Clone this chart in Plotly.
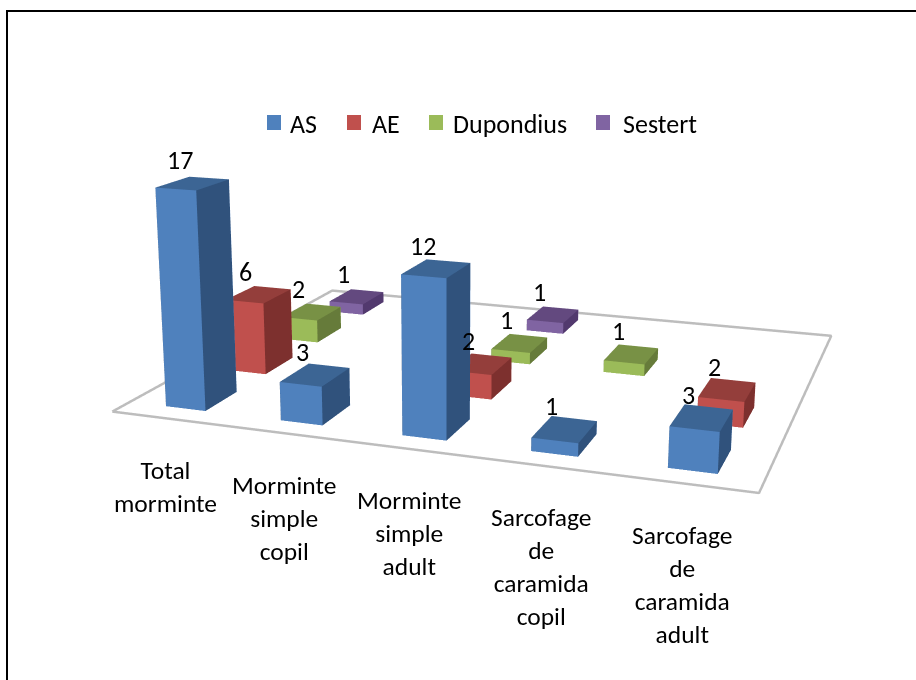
import plotly.graph_objects as go

# chart values, None where the column has no bar
categories = ["Total<br>morminte", "Morminte<br>simple<br>copil", "Morminte<br>simple<br>adult",
              "Sarcofage<br>de<br>caramida<br>copil", "Sarcofage<br>de<br>caramida<br>adult"]
series_names = ["AS", "AE", "Dupondius", "Sestert"]
as_values = [17, 3, 12, 1, 3]
ae_values = [6, None, 2, None, 2]
dupondius_values = [2, None, 1, 1, None]
sestert_values = [1, None, 1, None, None]
series_values = [as_values, ae_values, dupondius_values, sestert_values]

# front, top, side shades of every series
shades = [("#4f81bd", "#3c6594", "#30527c"),
          ("#c0504d", "#943e3b", "#7d302e"),
          ("#9bbb59", "#789145", "#667b3a"),
          ("#8064a2", "#63497f", "#52396e")]

FONT = "Carlito, Lato, sans-serif"
W = 0.175  # half width of a bar
D = 0.25   # half depth of a bar

# plotly fixes the lens at 45 degrees, the original has a much longer one.
# These skews of the floor and the bars make up for that, heights stay untouched.
LEAN_X, LEAN_Y = -0.0581, 0.0237
SKEW_X, SKEW_Y = -0.7392, 1.4821


def pos(x, y, z):
    return x + LEAN_X * z + SKEW_X * y, y + LEAN_Y * z + SKEW_Y * x, z


def bar(cx, cy, h, colors):
    corners = [(cx - W, cy - D), (cx + W, cy - D), (cx + W, cy + D), (cx - W, cy + D)]
    pts = [pos(a, b, 0) for a, b in corners] + [pos(a, b, h) for a, b in corners]
    xs, ys, zs = zip(*pts)
    # triangles: front, front, right, right, top, top, left, left, back, back
    i = [0, 0, 1, 1, 4, 4, 3, 3, 2, 2]
    j = [1, 5, 2, 6, 5, 6, 0, 4, 3, 7]
    k = [5, 4, 6, 5, 6, 7, 4, 7, 7, 6]
    front, top, side = colors
    face = [front, front, side, side, top, top, side, side, front, front]
    return go.Mesh3d(x=xs, y=ys, z=zs, i=i, j=j, k=k, facecolor=face, flatshading=True,
                     lighting=dict(ambient=1, diffuse=0, specular=0, fresnel=0),
                     hoverinfo="skip", showlegend=False, showscale=False)


fig = go.Figure()

# floor of the chart
floor = [pos(a, b, 0) for a, b in [(-.5, -.5), (4.5, -.5), (4.5, 3.5), (-.5, 3.5), (-.5, -.5)]]
fx, fy, fz = zip(*floor)
fig.add_trace(go.Scatter3d(x=fx, y=fy, z=fz, mode="lines", line=dict(color="#bdbdbd", width=5),
                           hoverinfo="skip", showlegend=False))

labels = []
for s, values in enumerate(series_values):
    for c, v in enumerate(values):
        if v is not None:
            fig.add_trace(bar(c, s, v, shades[s]))
            a, b, z = pos(c, s, v)
            labels.append(dict(x=a, y=b, z=z, text=str(v), showarrow=False,
                               font=dict(family=FONT, size=26, color="black"), xshift=-13, yshift=23))

for c, name in enumerate(categories):
    a, b, z = pos(c, -0.5, 0)
    labels.append(dict(x=a, y=b, z=z, text=name, showarrow=False, yanchor="top", xshift=-3, yshift=-34,
                       font=dict(family=FONT, size=25.5, color="black")))

# legend along the top, square and text start in pixels
legend_x = [(267, 288), (347, 370), (429, 451), (596, 621)]
legend_shapes = []
legend_text = []
for s, name in enumerate(series_names):
    x0, tx = legend_x[s]
    legend_shapes.append(dict(type="rect", xref="paper", yref="paper", x0=x0 / 916, x1=(x0 + 14) / 916,
                              y0=1 - 130 / 680, y1=1 - 115 / 680, fillcolor=shades[s][0], line_width=0))
    legend_text.append(dict(x=tx / 916, y=1 - 124 / 680, xref="paper", yref="paper", xanchor="left",
                            yanchor="middle", text=name, showarrow=False,
                            font=dict(family=FONT, size=26, color="black")))

frame = [dict(type="line", xref="paper", yref="paper", x0=6 / 916, x1=1, y0=1 - 11 / 680, y1=1 - 11 / 680,
              line=dict(color="black", width=2)),
         dict(type="line", xref="paper", yref="paper", x0=7 / 916, x1=7 / 916, y0=0, y1=1 - 11 / 680,
              line=dict(color="black", width=2))]

hidden = dict(visible=False)
fig.update_layout(
    width=916, height=680,
    margin=dict(l=0, r=0, t=0, b=0),
    paper_bgcolor="white",
    showlegend=False,
    annotations=legend_text,
    shapes=frame + legend_shapes,
    scene=dict(
        domain=dict(x=[0, 1], y=[0, 1]),
        xaxis=hidden, yaxis=hidden, zaxis=hidden,
        aspectmode="manual",
        aspectratio=dict(x=10.8654, y=10.8654, z=1.5462),
        xaxis_range=[-8.5, 13.5], yaxis_range=[-8.5, 13.5], zaxis_range=[0, 18],
        camera=dict(eye=dict(x=4.2115, y=-1.4094, z=2.4096), center=dict(x=0.1922, y=0.2117, z=0.1272),
                    up=dict(x=0, y=0, z=1)),
        annotations=labels,
    ),
)

fig.write_html("out.html", config={"displayModeBar": False}, post_script="document.body.style.margin='0';")
